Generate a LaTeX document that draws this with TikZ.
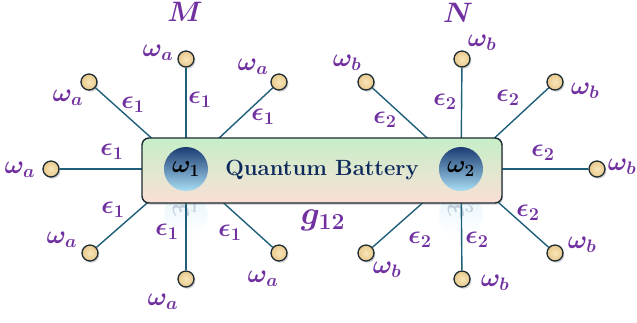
\RequirePackage{fix-cm}
\documentclass[tikz,border=0pt]{standalone}
\usepackage{bm}
\usetikzlibrary{shadows,backgrounds,fadings}
\definecolor{purp}{HTML}{7030A0}
\definecolor{conn}{HTML}{1F5F7A}
\definecolor{edge}{HTML}{1B2A33}
\definecolor{sandin}{HTML}{F8E6BA}
\definecolor{sandout}{HTML}{E8C88A}
\definecolor{boxtop}{HTML}{C6EFC8}
\definecolor{boxbot}{HTML}{FBDFD6}
\definecolor{navy}{HTML}{0E2A5C}
\definecolor{wtop}{HTML}{1B3C72}
\definecolor{wmid}{HTML}{6A9FD2}
\definecolor{wbot}{HTML}{A8DDF4}
\tikzset{
  sat/.style={circle, draw=edge, line width=1.1pt, inner color=sandin, outer color=sandout,
    minimum size=0.48cm, inner sep=0pt,
    drop shadow={shadow xshift=1.2pt, shadow yshift=-1.5pt, opacity=0.35}},
  link/.style={draw=conn, line width=1.2pt},
  lab/.style={text=purp, inner sep=0pt, font=\fontsize{22}{25}\selectfont},
  qbox/.style={draw=edge, line width=1.2pt, rounded corners=6pt, top color=boxtop, bottom color=boxbot,
    minimum width=10.8cm, minimum height=1.95cm, inner sep=0pt,
    drop shadow={shadow xshift=1pt, shadow yshift=-1.5pt, opacity=0.3}},
  wc/.style={circle, top color=wtop, middle color=wmid, bottom color=wbot, minimum size=1.32cm, inner sep=0pt,
    font=\fontsize{21}{24}\selectfont},
  refl/.style={circle, top color=wbot!70!white, bottom color=white, minimum size=1.32cm, inner sep=0pt, opacity=0.4}
}
\begin{document}
\begin{tikzpicture}[x=0.03cm,y=-0.03cm]
\useasboundingbox (0,0) rectangle (637,322);
% battery
\node[qbox, text=navy, font=\fontsize{18.8}{22}\selectfont\bfseries] (qb) at (322,170.5) {Quantum Battery};
\node[wc] (w1) at (186,169) {$\bm{\omega_1}$};
\node[wc] (w2) at (461,169) {$\bm{\omega_2}$};
% satellites
\node[sat] (a1) at (89,82) {};
\node[sat] (a2) at (186,59) {};
\node[sat] (a3) at (279,82) {};
\node[sat] (a4) at (51,169) {};
\node[sat] (a5) at (90,253) {};
\node[sat] (a6) at (186,279) {};
\node[sat] (a7) at (279,253) {};
\node[sat] (b1) at (366,82) {};
\node[sat] (b2) at (462,59) {};
\node[sat] (b3) at (555,82) {};
\node[sat] (b4) at (597,169) {};
\node[sat] (b5) at (366,253) {};
\node[sat] (b6) at (462,279) {};
\node[sat] (b7) at (555,253) {};
\begin{scope}[on background layer]
  \node[refl] (r1) at (186,215) {};
  \node[refl] (r2) at (461,215) {};
  \node[opacity=0.2, text=navy, font=\fontsize{21}{24}\selectfont] (rt1) at (186,209) {\scalebox{1}[-1]{$\bm{\omega_1}$}};
  \node[opacity=0.2, text=navy, font=\fontsize{21}{24}\selectfont] (rt2) at (461,209) {\scalebox{1}[-1]{$\bm{\omega_2}$}};
  \foreach \s in {a1,a2,a3,a4,a5,a6,a7} \draw[link] (\s) -- (w1);
  \foreach \s in {b1,b2,b3,b4,b5,b6,b7} \draw[link] (\s) -- (w2);
\end{scope}
% cluster names
\node[text=purp, font=\fontsize{24}{27}\selectfont] (M) at (185,12) {$\bm{M}$};
\node[text=purp, font=\fontsize{24}{27}\selectfont] (N) at (458,13) {$\bm{N}$};
\node[text=purp, font=\fontsize{28}{31}\selectfont] (g) at (323,220) {$\bm{g_{12}}$};
% omega labels
\node[lab] (la1) at (68,98) {$\bm{\omega_a}$};
\node[lab] (la2) at (158,53) {$\bm{\omega_a}$};
\node[lab] (la3) at (253,67) {$\bm{\omega_a}$};
\node[lab] (la4) at (20,170) {$\bm{\omega_a}$};
\node[lab] (la5) at (62,240) {$\bm{\omega_a}$};
\node[lab] (la6) at (163,302) {$\bm{\omega_a}$};
\node[lab] (la7) at (263,279) {$\bm{\omega_a}$};
\node[lab] (lb1) at (347,63) {$\bm{\omega_b}$};
\node[lab] (lb2) at (482,43) {$\bm{\omega_b}$};
\node[lab] (lb3) at (585,91) {$\bm{\omega_b}$};
\node[lab] (lb4) at (622,167) {$\bm{\omega_b}$};
\node[lab] (lb5) at (387,270) {$\bm{\omega_b}$};
\node[lab] (lb6) at (495,283) {$\bm{\omega_b}$};
\node[lab] (lb7) at (582,245) {$\bm{\omega_b}$};
% epsilon labels
\node[lab] (ea1) at (133,105) {$\bm{\epsilon_1}$};
\node[lab] (ea2) at (200,100) {$\bm{\epsilon_1}$};
\node[lab] (ea3) at (263,117) {$\bm{\epsilon_1}$};
\node[lab] (ea4) at (112,152) {$\bm{\epsilon_1}$};
\node[lab] (ea5) at (113,210) {$\bm{\epsilon_1}$};
\node[lab] (ea6) at (167,232) {$\bm{\epsilon_1}$};
\node[lab] (ea7) at (230,233) {$\bm{\epsilon_1}$};
\node[lab] (eb1) at (385,120) {$\bm{\epsilon_2}$};
\node[lab] (eb2) at (445,102) {$\bm{\epsilon_2}$};
\node[lab] (eb3) at (508,98) {$\bm{\epsilon_2}$};
\node[lab] (eb4) at (543,153) {$\bm{\epsilon_2}$};
\node[lab] (eb5) at (420,240) {$\bm{\epsilon_2}$};
\node[lab] (eb6) at (477,240) {$\bm{\epsilon_2}$};
\node[lab] (eb7) at (528,213) {$\bm{\epsilon_2}$};
\end{tikzpicture}
\end{document}
